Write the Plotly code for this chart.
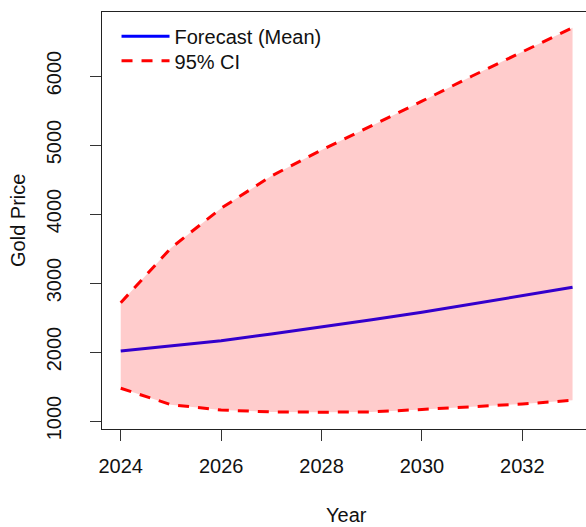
import plotly.graph_objects as go

# Annual gold price forecast with 95% confidence interval
years = [2024, 2025, 2026, 2027, 2028, 2029, 2030, 2031, 2032, 2033]
mean_price = [2016, 2088, 2164, 2261, 2360, 2468, 2575, 2698, 2816, 2938]
lower_ci = [1474, 1237, 1159, 1131, 1128, 1132, 1167, 1208, 1246, 1300]
upper_ci = [2714, 3507, 4083, 4550, 4928, 5280, 5635, 6000, 6352, 6700]

x_ticks = [2024, 2026, 2028, 2030, 2032]
x_tick_text = ["2024", "2026", "2028", "2030", "2032"]
y_ticks = [1000, 2000, 3000, 4000, 5000, 6000]
y_tick_text = ["1000", "2000", "3000", "4000", "5000", "6000"]

FONT = "Liberation Sans, Arial, sans-serif"
FS = 20
TXT = "#111111"

fig = go.Figure()

# mean forecast (drawn first so the translucent band tints it)
fig.add_trace(go.Scatter(
    x=years, y=mean_price, mode="lines", name="Forecast (Mean)",
    line=dict(color="#0000FF", width=3), legend="legend", hoverinfo="skip",
))

# shaded confidence band
band_x = years + years[::-1]
band_y = upper_ci + lower_ci[::-1]
fig.add_trace(go.Scatter(
    x=band_x, y=band_y, mode="none", fill="toself",
    fillcolor="rgba(255,0,0,0.2)", showlegend=False, hoverinfo="skip",
))

# dashed interval bounds
fig.add_trace(go.Scatter(
    x=years, y=lower_ci, mode="lines", name="95% CI", legend="legend2",
    line=dict(color="#FF0000", width=3, dash="11px,9px"), hoverinfo="skip",
))
fig.add_trace(go.Scatter(
    x=years, y=upper_ci, mode="lines", name="95% CI",
    line=dict(color="#FF0000", width=3, dash="11px,9px"), showlegend=False,
    hoverinfo="skip",
))

legend_style = dict(
    x=0.03, xanchor="left", yanchor="top",
    bgcolor="rgba(0,0,0,0)", borderwidth=0, itemwidth=48,
    font=dict(family=FONT, size=FS, color=TXT),
)

fig.update_layout(
    width=586, height=527,
    margin=dict(l=102, r=0, t=12, b=98),
    paper_bgcolor="white", plot_bgcolor="white",
    font=dict(family=FONT, size=FS, color=TXT),
    showlegend=True,
    legend=dict(y=0.9885, **legend_style),
    legend2=dict(y=0.9297, **legend_style),
    xaxis=dict(
        range=[2023.627, 2033.268], showgrid=False, zeroline=False,
        showline=True, linecolor="#222222", linewidth=1, mirror=True,
        ticks="outside", ticklen=11, tickwidth=1, tickcolor="#333333",
        tickvals=x_ticks, ticktext=x_tick_text, ticklabelstandoff=8,
    ),
    yaxis=dict(
        range=[884, 6928], showgrid=False, zeroline=False,
        showline=True, linecolor="#222222", linewidth=1, mirror=False,
        ticks="outside", ticklen=11, tickwidth=1, tickcolor="#333333",
        tickvals=y_ticks, ticktext=y_tick_text, tickangle=-90,
        ticklabelstandoff=21,
    ),
    annotations=[
        dict(text="Year", x=2028.5, xref="x", y=-0.206, yref="paper",
             xanchor="center", yanchor="middle", showarrow=False,
             font=dict(family=FONT, size=FS, color=TXT)),
        dict(text="Gold Price", x=-0.1746, xref="paper", y=0.5, yref="paper",
             xanchor="center", yanchor="middle", textangle=-90,
             showarrow=False,
             font=dict(family=FONT, size=FS, color=TXT)),
    ],
)

fig.write_html("out.html")
